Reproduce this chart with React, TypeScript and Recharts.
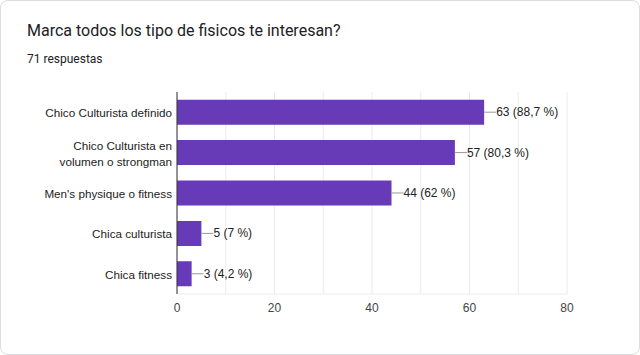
import { BarChart, Bar, XAxis, YAxis, CartesianGrid, LabelList } from 'recharts';

const categories = [
  'Chico Culturista definido',
  'Chico Culturista en\nvolumen o strongman',
  "Men's physique o fitness",
  'Chica culturista',
  'Chica fitness',
];
const counts = [63, 57, 44, 5, 3];
const percentLabels = ['88,7 %', '80,3 %', '62 %', '7 %', '4,2 %'];
const xTicks = [0, 10, 20, 30, 40, 50, 60, 70, 80];

const data = categories.map((name, i) => ({
  name,
  value: counts[i],
  label: `${counts[i]} (${percentLabels[i]})`,
}));

const chartFont = 'Arial, "Liberation Sans", sans-serif';

function YTick(props: any) {
  const { x, y, payload } = props;
  const lines = String(payload.value).split('\n');
  const lh = 16;
  const startY = y - ((lines.length - 1) * lh) / 2;
  const tx = x + 3;
  return (
    <text
      x={tx}
      y={startY}
      textAnchor="end"
      dominantBaseline="central"
      fontSize={11.7}
      fontFamily={chartFont}
      fill="#222"
    >
      {lines.map((line, i) => (
        <tspan key={i} x={tx} y={startY + i * lh}>
          {line}
        </tspan>
      ))}
    </text>
  );
}

function XTick(props: any) {
  const { x, y, payload } = props;
  if (payload.value % 20 !== 0) return null;
  return (
    <text x={x} y={y + 10} textAnchor="middle" fontSize={12} fontFamily={chartFont} fill="#444">
      {payload.value}
    </text>
  );
}

function ValueLabel(props: any) {
  const { x, y, width, height, index } = props;
  const endX = x + width;
  const midY = y + height / 2;
  return (
    <g>
      <line x1={endX} y1={midY} x2={endX + 12} y2={midY} stroke="#999" strokeWidth={1} />
      <text
        x={endX + 12}
        y={midY}
        dominantBaseline="central"
        fontSize={12}
        fontFamily={chartFont}
        fill="#222"
      >
        {data[index].label}
      </text>
    </g>
  );
}

export default function App() {
  return (
    <div
      style={{
        position: 'absolute',
        left: 0,
        top: 0,
        width: 640,
        height: 355,
        boxSizing: 'border-box',
        border: '1px solid #dadce0',
        borderRadius: 8,
        background: '#fff',
        overflow: 'hidden',
      }}
    >
      <div
        style={{
          position: 'absolute',
          left: 26,
          top: 20,
          fontFamily: 'Roboto, sans-serif',
          fontSize: 16,
          color: '#202124',
          whiteSpace: 'nowrap',
        }}
      >
        Marca todos los tipo de fisicos te interesan?
      </div>
      <div
        style={{
          position: 'absolute',
          left: 26,
          top: 51,
          fontFamily: 'Roboto, sans-serif',
          fontSize: 12,
          color: '#202124',
          whiteSpace: 'nowrap',
        }}
      >
        71 respuestas
      </div>
      <div style={{ position: 'absolute', left: -1, top: -1 }}>
        <BarChart
          width={640}
          height={355}
          data={data}
          layout="vertical"
          margin={{ top: 92, right: 73, bottom: 31, left: 0 }}
          barCategoryGap="19%"
        >
          <CartesianGrid horizontal={false} stroke="#ebebeb" />
          <XAxis
            type="number"
            domain={[0, 80]}
            ticks={xTicks}
            interval={0}
            axisLine={{ stroke: '#ebebeb' }}
            tickLine={false}
            tick={<XTick />}
            height={30}
          />
          <XAxis
            xAxisId="top"
            type="number"
            orientation="top"
            domain={[0, 80]}
            height={0}
            tick={false}
            tickLine={false}
            axisLine={{ stroke: '#ebebeb' }}
          />
          <YAxis
            type="category"
            dataKey="name"
            width={177}
            axisLine={{ stroke: '#333' }}
            tickLine={false}
            tick={<YTick />}
            interval={0}
          />
          <Bar dataKey="value" fill="#673ab7" isAnimationActive={false}>
            <LabelList dataKey="value" content={<ValueLabel />} />
          </Bar>
        </BarChart>
      </div>
    </div>
  );
}
